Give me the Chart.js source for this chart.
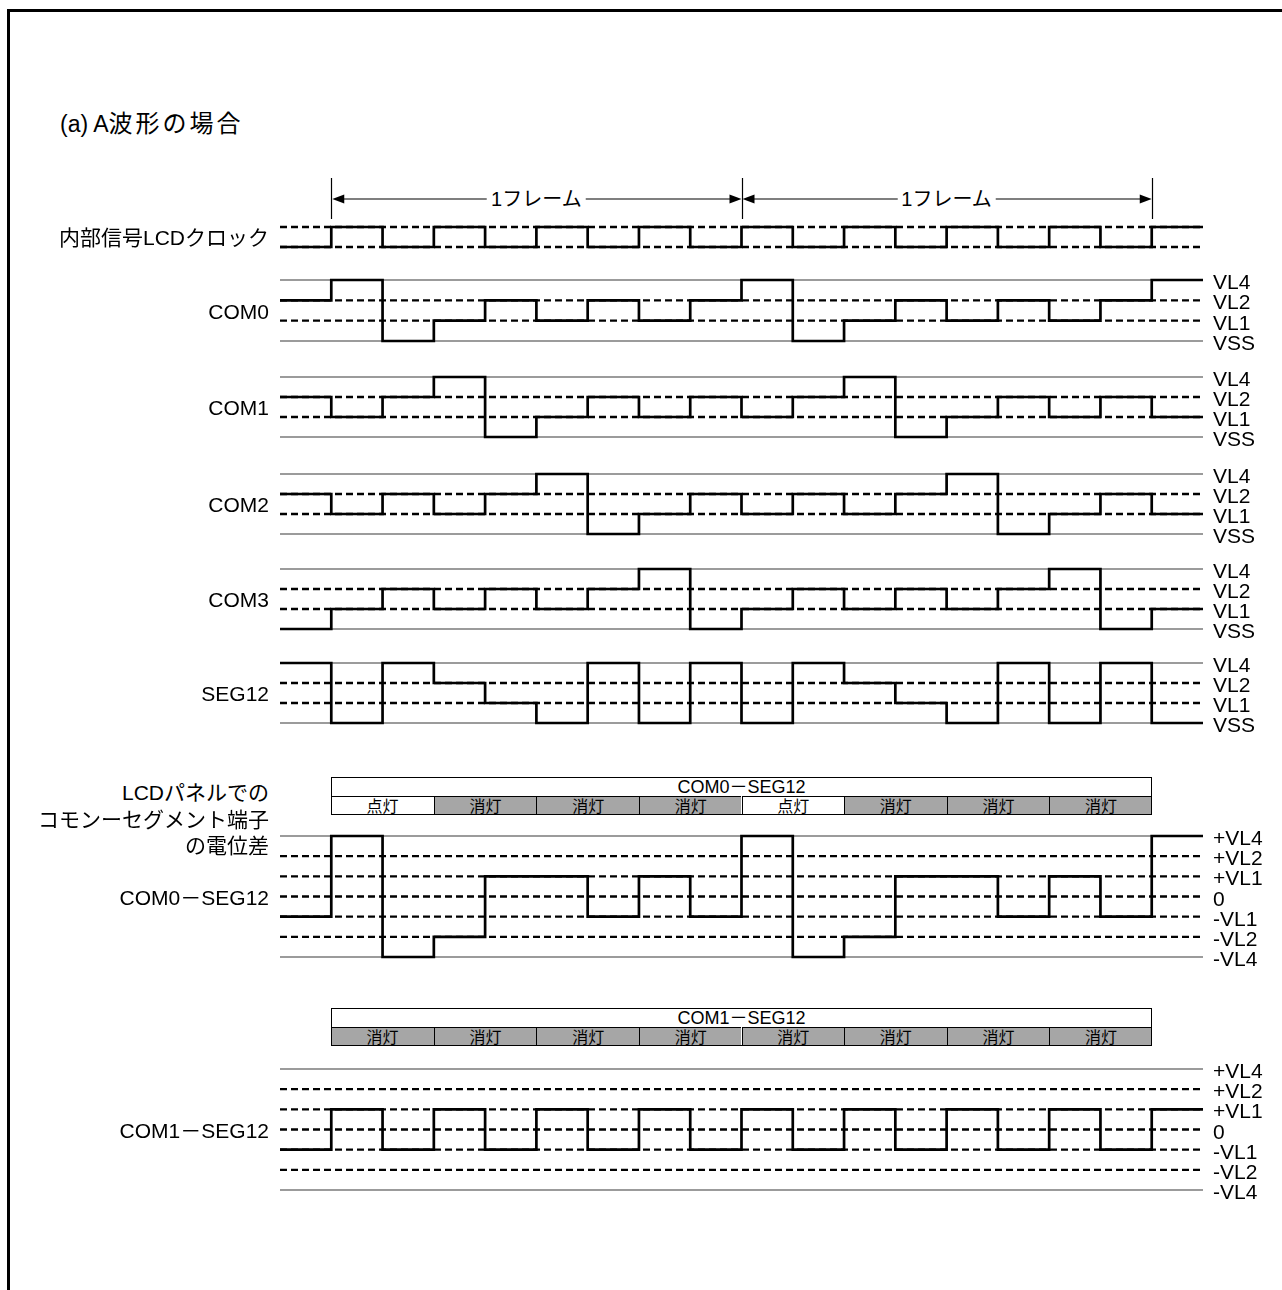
<!DOCTYPE html>
<html>
<head>
  <meta charset="utf-8" />
  <title>A波形の場合</title>
  <script src="https://cdn.jsdelivr.net/npm/chart.js"></script>
  <style>
    html, body { margin: 0; padding: 0; background: #fff; overflow: hidden; }
    #page {
      position: relative; width: 1282px; height: 1290px; overflow: hidden;
      font-family: "Liberation Sans", Arial, "Noto Sans CJK JP", sans-serif; color: #000;
    }
    #page canvas { position: absolute; left: 0; }
    .lbl { position: absolute; white-space: nowrap; line-height: 1; }
    .frame { position: absolute; left: 7px; top: 9px; right: -10px; bottom: -10px;
             border-top: 3px solid #000; border-left: 3px solid #000; }
    .cell { position: absolute; box-sizing: border-box; text-align: center; white-space: nowrap; }
  </style>
</head>

<body>
  <div id="page"><div class="frame"></div></div>

<script>
  // one slot = one half period of the LCD clock, slot -1 is the tail of the previous frame
  const slots = [-1, 0, 1, 2, 3, 4, 5, 6, 7, 8, 9, 10, 11, 12, 13, 14, 15, 16];
  const slotEnd = 17;

  // clock: 0 = low, 1 = high
  const clockLevels = [0, 1, 0, 1, 0, 1, 0, 1, 0, 1, 0, 1, 0, 1, 0, 1, 0, 1];

  // COM / SEG rows: 0 = VSS, 1 = VL1, 2 = VL2, 3 = VL4
  const comLevelValues = [0, 1, 2, 3];
  const comLevelNames = ["VSS", "VL1", "VL2", "VL4"];
  const com0 = [2, 3, 0, 1, 2, 1, 2, 1, 2, 3, 0, 1, 2, 1, 2, 1, 2, 3];
  const com1 = [2, 1, 2, 3, 0, 1, 2, 1, 2, 1, 2, 3, 0, 1, 2, 1, 2, 1];
  const com2 = [2, 1, 2, 1, 2, 3, 0, 1, 2, 1, 2, 1, 2, 3, 0, 1, 2, 1];
  const com3 = [0, 1, 2, 1, 2, 1, 2, 3, 0, 1, 2, 1, 2, 1, 2, 3, 0, 1];
  const seg12 = [3, 0, 3, 2, 1, 0, 3, 0, 3, 0, 3, 2, 1, 0, 3, 0, 3, 0];

  // potential difference rows: -3 = -VL4 ... 0 ... 3 = +VL4
  const diffLevelValues = [-3, -2, -1, 0, 1, 2, 3];
  const diffLevelNames = ["-VL4", "-VL2", "-VL1", "0", "+VL1", "+VL2", "+VL4"];
  const com0Seg12 = [-1, 3, -3, -2, 1, 1, -1, 1, -1, 3, -3, -2, 1, 1, -1, 1, -1, 3];
  const com1Seg12 = [-1, 1, -1, 1, -1, 1, -1, 1, -1, 1, -1, 1, -1, 1, -1, 1, -1, 1];

  // frames and lit / unlit states
  const frameEdges = [0, 8, 16];
  const frameLabel = "1フレーム";
  const cellEdges = [0, 2, 4, 6, 8, 10, 12, 14, 16];
  const com0Seg12States = ["点灯", "消灯", "消灯", "消灯", "点灯", "消灯", "消灯", "消灯"];
  const com1Seg12States = ["消灯", "消灯", "消灯", "消灯", "消灯", "消灯", "消灯", "消灯"];

  const page = document.getElementById("page");
  const W = 1282, LEFT = 280, RIGHT = 1203, PAD = 10;
  const LABEL_R = 269, LABEL_L = 1213;

  function addLabel(text, x, y, align, size, extra) {
    const d = document.createElement("div");
    d.className = "lbl";
    d.textContent = text;
    d.style.left = x + "px";
    d.style.top = y + "px";
    d.style.fontSize = size + "px";
    const tx = align === "right" ? "-100%" : align === "center" ? "-50%" : "0";
    d.style.transform = "translate(" + tx + ", -50%)";
    if (extra) Object.assign(d.style, extra);
    page.appendChild(d);
    return d;
  }

  const frameArrows = {
    id: "frameArrows",
    afterDatasetsDraw(chart) {
      const { ctx, chartArea } = chart;
      const x = chart.scales.x;
      const yTop = chartArea.top - 49, yBot = chartArea.top - 8, yA = chartArea.top - 28;
      ctx.save();
      ctx.strokeStyle = "#000";
      ctx.fillStyle = "#000";
      ctx.lineWidth = 1.2;
      frameEdges.forEach((e) => {
        const px = Math.round(x.getPixelForValue(e)) + 0.5;
        ctx.beginPath(); ctx.moveTo(px, yTop); ctx.lineTo(px, yBot); ctx.stroke();
      });
      const head = (px, dir) => {
        ctx.beginPath();
        ctx.moveTo(px, yA);
        ctx.lineTo(px - dir * 12, yA - 4.5);
        ctx.lineTo(px - dir * 12, yA + 4.5);
        ctx.closePath(); ctx.fill();
      };
      for (let i = 0; i < frameEdges.length - 1; i++) {
        const a = x.getPixelForValue(frameEdges[i]) + 1;
        const b = x.getPixelForValue(frameEdges[i + 1]);
        ctx.beginPath(); ctx.moveTo(a + 10, yA); ctx.lineTo(b - 10, yA); ctx.stroke();
        head(a, -1); head(b, 1);
      }
      ctx.restore();
    }
  };

  function makeRow(cfg) {
    const canvas = document.createElement("canvas");
    const padTop = cfg.padTop || PAD;
    const top = cfg.top - padTop;
    canvas.width = W;
    canvas.height = cfg.bottom - cfg.top + padTop + PAD;
    canvas.style.top = top + "px";
    page.appendChild(canvas);

    const last = cfg.values[cfg.values.length - 1];
    const datasets = [{
      data: slots.map((t, i) => ({ x: t, y: cfg.values[i] })).concat([{ x: slotEnd, y: last }]),
      stepped: true, borderColor: "#000", borderWidth: 2.7, pointRadius: 0, order: 0, clip: false
    }];
    cfg.levels.forEach((v) => {
      const dashed = cfg.dashed.includes(v);
      datasets.push({
        data: [{ x: slots[0], y: v }, { x: slotEnd, y: v }],
        borderColor: dashed ? "#000" : "#7a7a7a",
        borderWidth: dashed ? 2.3 : 1.3,
        borderDash: dashed ? [7, 4] : [],
        pointRadius: 0, order: 1, clip: false
      });
    });

    const chart = new Chart(canvas, {
      type: "line",
      data: { datasets },
      options: {
        responsive: false,
        animation: false,
        events: [],
        layout: { padding: { left: LEFT, right: W - RIGHT, top: padTop, bottom: PAD } },
        scales: {
          x: { type: "linear", min: slots[0], max: slotEnd, display: false },
          y: { type: "linear", min: Math.min(...cfg.levels), max: Math.max(...cfg.levels), display: false }
        },
        plugins: { legend: { display: false }, tooltip: { enabled: false } }
      },
      plugins: cfg.plugins || []
    });

    const yPx = (v) => top + chart.scales.y.getPixelForValue(v);
    if (cfg.names) {
      cfg.levels.forEach((v, k) => addLabel(cfg.names[k], LABEL_L, yPx(v) + 1, "left", 21));
    }
    if (cfg.label) {
      const mid = (yPx(Math.min(...cfg.levels)) + yPx(Math.max(...cfg.levels))) / 2;
      addLabel(cfg.label, LABEL_R, mid, "right", 21);
    }
    return chart;
  }

  function statusBox(chart, boxTop, title, states) {
    const x = (v) => chart.scales.x.getPixelForValue(v);
    const x0 = x(cellEdges[0]), x1 = x(cellEdges[cellEdges.length - 1]);
    const titleH = 19, cellH = 18.5;
    const t = document.createElement("div");
    t.className = "cell";
    Object.assign(t.style, { left: x0 + "px", top: boxTop + "px", width: (x1 - x0) + "px",
      height: titleH + "px", lineHeight: (titleH + 1) + "px", fontSize: "18px", background: "#fff" });
    t.textContent = title;
    page.appendChild(t);
    states.forEach((s, i) => {
      const c = document.createElement("div");
      c.className = "cell";
      const a = x(cellEdges[i]), b = x(cellEdges[i + 1]);
      Object.assign(c.style, {
        left: a + "px", top: (boxTop + titleH) + "px", width: (b - a) + "px", height: cellH + "px",
        lineHeight: (cellH + 1) + "px", fontSize: "16px",
        background: s === "点灯" ? "#fff" : "#a6a6a6",
        borderTop: "1.5px solid #000", borderLeft: i > 0 ? "1.5px solid #000" : "none"
      });
      c.textContent = s;
      page.appendChild(c);
    });
    const o = document.createElement("div");
    o.className = "cell";
    Object.assign(o.style, { left: x0 + "px", top: boxTop + "px", width: (x1 - x0) + "px",
      height: (titleH + cellH) + "px", border: "1.5px solid #000" });
    page.appendChild(o);
  }

  // title
  const ttl = addLabel("(a) A", 60, 124, "left", 23);
  const cjk = document.createElement("span");
  cjk.style.fontSize = "24px";
  cjk.style.letterSpacing = "3px";
  cjk.textContent = "波形の場合";
  ttl.appendChild(cjk);

  const comDashed = [1, 2];
  const diffDashed = [-2, -1, 0, 1, 2];

  const clock = makeRow({ top: 227, bottom: 247, padTop: 57, levels: [0, 1], dashed: [0, 1],
    values: clockLevels, label: "内部信号LCDクロック", plugins: [frameArrows] });
  for (let i = 0; i < frameEdges.length - 1; i++) {
    const a = clock.scales.x.getPixelForValue(frameEdges[i]);
    const b = clock.scales.x.getPixelForValue(frameEdges[i + 1]);
    addLabel(frameLabel, (a + b) / 2, 199, "center", 20, { background: "#fff", padding: "1px 4px" });
  }

  makeRow({ top: 280, bottom: 341, levels: comLevelValues, names: comLevelNames, dashed: comDashed, values: com0, label: "COM0" });
  makeRow({ top: 377, bottom: 437, levels: comLevelValues, names: comLevelNames, dashed: comDashed, values: com1, label: "COM1" });
  makeRow({ top: 474, bottom: 534, levels: comLevelValues, names: comLevelNames, dashed: comDashed, values: com2, label: "COM2" });
  makeRow({ top: 569, bottom: 629, levels: comLevelValues, names: comLevelNames, dashed: comDashed, values: com3, label: "COM3" });
  makeRow({ top: 663, bottom: 723, levels: comLevelValues, names: comLevelNames, dashed: comDashed, values: seg12, label: "SEG12" });

  const diff0 = makeRow({ top: 836, bottom: 957, levels: diffLevelValues, names: diffLevelNames,
    dashed: diffDashed, values: com0Seg12, label: "COM0－SEG12" });
  const diff1 = makeRow({ top: 1069, bottom: 1190, levels: diffLevelValues, names: diffLevelNames,
    dashed: diffDashed, values: com1Seg12, label: "COM1－SEG12" });

  addLabel("LCDパネルでの", LABEL_R, 792, "right", 21);
  addLabel("コモンーセグメント端子", LABEL_R, 819, "right", 21);
  addLabel("の電位差", LABEL_R, 845, "right", 21);

  statusBox(diff0, 777, "COM0－SEG12", com0Seg12States);
  statusBox(diff1, 1008, "COM1－SEG12", com1Seg12States);
</script>
</body>
</html>
